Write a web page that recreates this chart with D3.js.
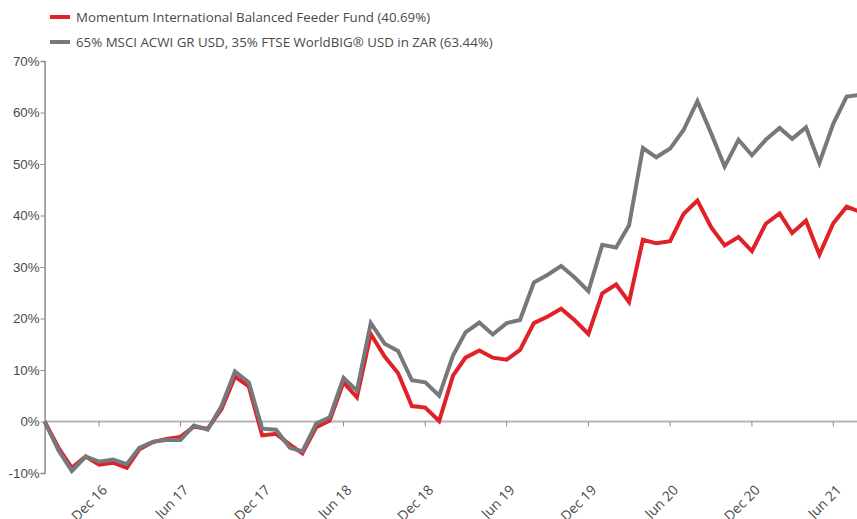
<!DOCTYPE html>
<html>
<head>
<meta charset="utf-8">
<script src="https://cdn.jsdelivr.net/npm/d3@7"></script>
<style>
  body { margin: 0; background: #fff; }
  svg { display: block; font-family: "Open Sans", "Noto Sans", sans-serif; }
  .legendText, .tickText { fill: #4a4a4a; font-size: 13.3px; }
  .xlabel { fill: #4a4a4a; font-size: 13.8px; }
</style>
</head>
<body>
<div id="chartDiv"></div>
<script>
// month ends, Aug 16 .. Aug 21
var months = ["2016-08","2016-09","2016-10","2016-11","2016-12","2017-01","2017-02","2017-03","2017-04","2017-05","2017-06","2017-07","2017-08","2017-09","2017-10","2017-11","2017-12","2018-01","2018-02","2018-03","2018-04","2018-05","2018-06","2018-07","2018-08","2018-09","2018-10","2018-11","2018-12","2019-01","2019-02","2019-03","2019-04","2019-05","2019-06","2019-07","2019-08","2019-09","2019-10","2019-11","2019-12","2020-01","2020-02","2020-03","2020-04","2020-05","2020-06","2020-07","2020-08","2020-09","2020-10","2020-11","2020-12","2021-01","2021-02","2021-03","2021-04","2021-05","2021-06","2021-07","2021-08"]

var fundValues = [0,-5.1,-9.0,-6.8,-8.4,-8.0,-9.0,-5.4,-4.0,-3.4,-3.0,-1.0,-1.4,2.4,8.7,6.8,-2.7,-2.4,-4.5,-6.2,-1.1,0.2,7.6,4.7,17.0,12.6,9.4,3.0,2.7,0.1,8.9,12.4,13.8,12.4,12.0,13.9,19.1,20.4,21.9,19.6,17.0,24.9,26.6,23.2,35.3,34.6,35.0,40.3,42.9,37.7,34.2,35.8,33.1,38.4,40.4,36.6,39.0,32.4,38.5,41.7,40.69]

var benchValues = [0,-5.6,-9.6,-6.8,-7.8,-7.4,-8.3,-5.1,-3.9,-3.6,-3.6,-0.8,-1.6,3.0,9.7,7.6,-1.4,-1.6,-5.1,-5.8,-0.4,0.8,8.5,6.0,19.1,15.1,13.7,8.0,7.6,5.0,12.8,17.3,19.2,16.9,19.1,19.7,27.0,28.5,30.2,27.9,25.3,34.3,33.8,38.1,53.1,51.3,53.0,56.6,62.2,55.9,49.5,54.7,51.7,54.7,57.0,54.9,57.1,50.2,57.8,63.1,63.44]

var seriesNames = ["Momentum International Balanced Feeder Fund (40.69%)", "65% MSCI ACWI GR USD, 35% FTSE WorldBIG\u00ae USD in ZAR (63.44%)"]
var seriesColors = ["#e02127", "#77787b"]

var tickMonths = ["2016-12","2017-06","2017-12","2018-06","2018-12","2019-06","2019-12","2020-06","2020-12","2021-06"]
var tickLabels = ["Dec 16","Jun 17","Dec 17","Jun 18","Dec 18","Jun 19","Dec 19","Jun 20","Dec 20","Jun 21"]
var yTicks = [-10,0,10,20,30,40,50,60,70]

var width = 857, height = 519
var parseMonth = d3.timeParse("%Y-%m")

var svg = d3.select("#chartDiv").append("svg")
  .attr("width", width)
  .attr("height", height)

var x = d3.scaleTime()
  .domain([parseMonth(months[0]), parseMonth(months[months.length - 1])])
  .range([44.6, 860.5])
var y = d3.scaleLinear().domain([-10, 70]).range([473, 61])

// legend
var legend = svg.append("g").attr("class", "legend")
seriesNames.forEach(function(name, i){
  var ly = 17 + i * 25
  legend.append("rect")
    .attr("x", 50).attr("y", ly - 2)
    .attr("width", 20).attr("height", 4)
    .style("fill", seriesColors[i])
  legend.append("text")
    .attr("class", "legendText")
    .attr("x", 76).attr("y", ly)
    .attr("dy", "0.35em")
    .text(name)
})

// zero line
svg.append("line")
  .attr("x1", x.range()[0]).attr("x2", width)
  .attr("y1", y(0)).attr("y2", y(0))
  .style("stroke", "#b5b5b5")
  .style("stroke-width", "2px")

// y axis
var yAxis = d3.axisLeft(y).tickValues(yTicks).tickSize(4).tickFormat(function(d){ return d + "%" })
var yG = svg.append("g").attr("class", "yaxis")
  .attr("transform", "translate(" + x.range()[0] + ",0)")
  .call(yAxis)
yG.select(".domain").style("stroke", "#8a8a8a").style("stroke-width", "1.5px")
yG.selectAll(".tick line").style("stroke", "#8a8a8a")
yG.selectAll(".tick text")
  .attr("class", "tickText")
  .attr("x", -5)
  .style("font-family", "inherit")

// x axis ticks on the zero line
var xTickDates = tickMonths.map(parseMonth)
var xG = svg.append("g").attr("class", "xaxis")
xG.selectAll(".xtick").data(xTickDates).enter().append("line")
  .attr("class", "xtick")
  .attr("x1", function(d){ return x(d) }).attr("x2", function(d){ return x(d) })
  .attr("y1", y(0)).attr("y2", y(0) + 5)
  .style("stroke", "#8a8a8a")
// labels hang below the plot, partly cut by the bottom edge as in the original
xG.selectAll(".xlabel").data(xTickDates).enter().append("text")
  .attr("class", "xlabel")
  .attr("text-anchor", "end")
  .attr("transform", function(d){ return "translate(" + (x(d) + 9) + "," + 491 + ") rotate(-45)" })
  .text(function(d, i){ return tickLabels[i] })

// lines
var line = d3.line()
  .x(function(d){ return x(d.date) })
  .y(function(d){ return y(d.value) })

var seriesData = [fundValues, benchValues].map(function(vals, i){
  return { color: seriesColors[i], data: vals.map(function(v, j){ return { date: parseMonth(months[j]), value: v } }) }
})

svg.selectAll(".browser").data(seriesData).enter().append("path")
  .attr("class", "browser")
  .attr("d", function(d){ return line(d.data) })
  .style("fill", "none")
  .style("stroke", function(d){ return d.color })
  .style("stroke-width", "4px")
  .style("stroke-linejoin", "miter")
</script>
</body>
</html>
